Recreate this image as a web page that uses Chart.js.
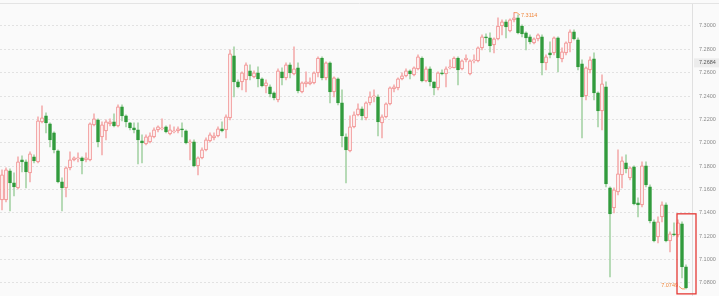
<!DOCTYPE html>
<html><head><meta charset="utf-8">
<style>html,body{margin:0;padding:0;background:#fafafa;overflow:hidden}#wrap{position:relative;width:719px;height:296px}</style>
<script src="https://cdn.jsdelivr.net/npm/chart.js@4/dist/chart.umd.min.js"></script>
</head><body><div id="wrap"><canvas id="c" width="719" height="296"></canvas></div>
<script>
const opens = [
7.1511,7.1511,7.1759,7.1657,7.1614,7.1853,7.1836,7.1742,7.1879,7.1836,
7.2179,7.2230,7.2162,7.2085,7.1930,7.1665,7.1614,7.1785,7.1853,7.1862,
7.1871,7.1853,7.1853,7.2153,7.2196,7.2050,7.2102,7.2162,7.2179,7.2144,
7.2307,7.2230,7.2170,7.2127,7.2110,7.2016,7.1990,7.2008,7.2050,7.2110,
7.2119,7.2136,7.2076,7.2093,7.2102,7.2119,7.2102,7.1999,7.2008,7.1802,
7.1871,7.1939,7.2016,7.2042,7.2059,7.2119,7.2110,7.2213,7.2744,7.2521,
7.2521,7.2538,7.2615,7.2564,7.2598,7.2547,7.2487,7.2478,7.2427,
7.2367,7.2607,7.2555,7.2667,7.2590,7.2641,7.2436,7.2504,7.2504,7.2513,
7.2598,7.2726,7.2555,7.2684,7.2436,7.2547,7.2341,7.2050,7.1930,7.2136,
7.2239,7.2290,7.2213,7.2341,7.2393,7.2393,7.2170,7.2221,7.2333,7.2461,
7.2470,7.2547,7.2572,7.2615,7.2581,7.2632,7.2726,7.2530,7.2632,7.2521,
7.2470,7.2598,7.2590,7.2641,7.2641,7.2726,7.2632,7.2709,7.2590,7.2701,
7.2701,7.2812,7.2906,7.2898,7.2838,7.2889,7.3000,7.3035,7.2958,7.3052,
7.3069,7.3000,7.2941,7.2906,7.2855,7.2889,7.2906,7.2684,7.2769,7.2769,
7.2898,7.2718,7.2769,7.2855,7.2949,7.2881,7.2675,7.2401,7.2624,7.2718,
7.2427,7.2273,7.2478,7.1614,7.1443,7.1580,7.1725,7.1828,7.1699,7.1793,
7.1485,7.1468,7.1802,7.1622,7.1323,7.1194,7.1366,7.1468,7.1160,7.1220,
7.1211,7.1306,7.0938];
const highs = [
7.1768,7.1785,7.1776,7.1742,7.1879,7.1888,7.1853,7.1922,7.1896,7.2221,
7.2316,7.2256,7.2170,7.2093,7.1939,7.1699,7.1793,7.1922,7.1879,7.1913,
7.1879,7.1913,7.2170,7.2247,7.2204,7.2179,7.2196,7.2204,7.2247,7.2324,
7.2324,7.2239,7.2175,7.2170,7.2170,7.2067,7.2067,7.2085,7.2127,7.2144,
7.2204,7.2144,7.2153,7.2136,7.2136,7.2170,7.2110,7.2025,7.2025,7.1879,
7.1956,7.2042,7.2085,7.2085,7.2136,7.2179,7.2239,7.2795,7.2821,7.2538,
7.2607,7.2684,7.2667,7.2615,7.2650,7.2555,7.2538,7.2495,7.2436,
7.2632,7.2641,7.2684,7.2684,7.2821,7.2684,7.2521,7.2607,7.2555,7.2607,
7.2735,7.2735,7.2692,7.2692,7.2564,7.2555,7.2453,7.2076,7.2230,7.2264,
7.2333,7.2307,7.2350,7.2436,7.2453,7.2410,7.2239,7.2341,7.2478,7.2495,
7.2555,7.2598,7.2632,7.2624,7.2650,7.2752,7.2735,7.2650,7.2650,7.2521,
7.2607,7.2624,7.2650,7.2709,7.2735,7.2735,7.2709,7.2752,7.2709,7.2752,
7.2821,7.2923,7.2932,7.2941,7.2898,7.3069,7.3052,7.3052,7.3060,7.3114,
7.3095,7.3009,7.2949,7.2923,7.2898,7.2932,7.2923,7.2752,7.2864,7.2906,
7.2906,7.2812,7.2864,7.2966,7.2966,7.2898,7.2709,7.2650,7.2735,7.2769,
7.2436,7.2581,7.2521,7.1622,7.1614,7.1939,7.1879,7.1896,7.1793,7.1802,
7.1528,7.1836,7.1836,7.1639,7.1340,7.1366,7.1494,7.1485,7.1237,7.1314,
7.1340,7.1323,7.0955];
const lows = [
7.1425,7.1494,7.1417,7.1545,7.1605,7.1751,7.1614,7.1665,7.1828,7.1828,
7.2170,7.2085,7.1965,7.1913,7.1657,7.1417,7.1537,7.1768,7.1845,7.1836,
7.1734,7.1836,7.1845,7.2144,7.1965,7.1896,7.2025,7.2144,7.2136,7.2136,
7.2187,7.2136,7.2110,7.2085,7.1819,7.1828,7.1982,7.1999,7.2042,7.2093,
7.2110,7.2085,7.2067,7.2085,7.2085,7.2050,7.1990,7.1853,7.1793,7.1725,
7.1862,7.1930,7.2008,7.2025,7.2050,7.2093,7.2042,7.2196,7.2393,7.2470,
7.2453,7.2436,7.2538,7.2555,7.2478,7.2478,7.2427,7.2393,7.2367,
7.2350,7.2495,7.2538,7.2555,7.2581,7.2427,7.2427,7.2478,7.2495,7.2504,
7.2564,7.2538,7.2538,7.2341,7.2393,7.2324,7.1965,7.1657,7.1922,7.2127,
7.2230,7.2196,7.2196,7.2324,7.2350,7.2059,7.2042,7.2213,7.2324,7.2436,
7.2453,7.2538,7.2564,7.2547,7.2572,7.2624,7.2521,7.2521,7.2487,7.2410,
7.2453,7.2581,7.2478,7.2632,7.2641,7.2495,7.2624,7.2692,7.2581,7.2684,
7.2692,7.2795,7.2855,7.2778,7.2769,7.2881,7.2923,7.2898,7.2949,7.3035,
7.2932,7.2906,7.2795,7.2846,7.2846,7.2872,7.2581,7.2624,7.2726,7.2752,
7.2607,7.2692,7.2752,7.2778,7.2881,7.2624,7.2042,7.2367,7.2598,7.2367,
7.2136,7.2110,7.1622,7.0852,7.1400,7.1554,7.1614,7.1742,7.1682,7.1468,
7.1366,7.1451,7.1622,7.1314,7.1151,7.1143,7.1323,7.1151,7.1066,7.1203,
7.1194,7.0843,7.0749];
const closes = [
7.1725,7.1768,7.1657,7.1622,7.1836,7.1836,7.1751,7.1905,7.1845,7.2187,
7.2213,7.2170,7.2025,7.1939,7.1665,7.1614,7.1785,7.1853,7.1871,7.1871,
7.1845,7.1871,7.2162,7.2204,7.2008,7.2153,7.2179,7.2179,7.2144,7.2307,
7.2230,7.2179,7.2127,7.2110,7.2025,7.1999,7.2050,7.2059,7.2110,7.2136,
7.2127,7.2093,7.2110,7.2102,7.2119,7.2110,7.1999,7.2008,7.1802,7.1871,
7.1939,7.2025,7.2067,7.2059,7.2119,7.2102,7.2221,7.2761,7.2521,7.2478,
7.2598,7.2667,7.2572,7.2598,7.2547,7.2487,7.2513,7.2418,7.2384,
7.2615,7.2555,7.2667,7.2598,7.2632,7.2444,7.2513,7.2521,7.2521,7.2598,
7.2726,7.2555,7.2684,7.2436,7.2555,7.2341,7.2059,7.1939,7.2136,7.2239,
7.2290,7.2230,7.2341,7.2393,7.2401,7.2179,7.2221,7.2333,7.2470,7.2478,
7.2547,7.2572,7.2615,7.2590,7.2641,7.2735,7.2530,7.2632,7.2521,7.2470,
7.2598,7.2590,7.2632,7.2650,7.2726,7.2624,7.2701,7.2726,7.2701,7.2709,
7.2812,7.2906,7.2898,7.2829,7.2889,7.3000,7.3035,7.2992,7.3052,7.3069,
7.2941,7.2932,7.2898,7.2864,7.2889,7.2923,7.2684,7.2735,7.2752,7.2898,
7.2726,7.2778,7.2855,7.2949,7.2889,7.2650,7.2393,7.2641,7.2709,7.2427,
7.2273,7.2504,7.1648,7.1391,7.1597,7.1734,7.1845,7.1776,7.1785,7.1477,
7.1468,7.1802,7.1639,7.1331,7.1160,7.1323,7.1468,7.1160,7.1220,7.1211,
7.1314,7.0938,7.0758];
const yTicks = [7.08,7.10,7.12,7.14,7.16,7.18,7.20,7.22,7.24,7.26,7.28,7.30];
const markerPrice = 7.2684;
const yMin = 7.0688, yMax = 7.3188;

const categories = opens.map((_, i) => 'K' + (i + 1));
categories.push('');

const GREEN = '#2f9a3a', GREEN_WICK = '#a9d4a9', RED = '#f08484', RED_WICK = '#f5b0b0';
const up = opens.map((o, i) => closes[i] >= o);

const overlay = {
  id: 'overlay',
  afterDraw(chart) {
    const { ctx, scales: { x, y } } = chart;
    ctx.save();
    ctx.strokeStyle = '#e4e4e4'; ctx.lineWidth = 1;
    ctx.beginPath(); ctx.moveTo(0, 3.5); ctx.lineTo(chart.width, 3.5); ctx.stroke();
    ctx.font = '5.5px "Liberation Sans", Arial, sans-serif';
    ctx.textBaseline = 'middle';
    // max label
    const hMax = Math.max(...highs), iMax = highs.indexOf(hMax);
    let px = x.getPixelForValue(iMax), py = y.getPixelForValue(hMax);
    ctx.strokeStyle = '#f0883e'; ctx.fillStyle = '#f0883e'; ctx.lineWidth = 0.8;
    ctx.beginPath(); ctx.moveTo(px, py); ctx.lineTo(px + 3, py); ctx.lineTo(px + 6, py + 2.5); ctx.stroke();
    ctx.textAlign = 'left';
    ctx.fillText(hMax.toFixed(4), px + 7, py + 3);
    // min label
    const lMin = Math.min(...lows), iMin = lows.indexOf(lMin);
    px = x.getPixelForValue(iMin); py = y.getPixelForValue(lMin);
    ctx.beginPath(); ctx.moveTo(px - 1, py); ctx.lineTo(px - 4, py); ctx.lineTo(px - 7, py - 2.5); ctx.stroke();
    ctx.textAlign = 'right';
    ctx.fillText(lMin.toFixed(4), px - 8, py - 3);
    // highlight box around last two candles
    const n = opens.length;
    const hi2 = Math.max(highs[n - 2], highs[n - 1]);
    const left = x.getPixelForValue(n - 2) - 5, right = x.getPixelForValue(n - 1) + 10;
    const top = y.getPixelForValue(hi2) - 8, bottom = y.getPixelForValue(lMin) + 5;
    ctx.strokeStyle = '#e53935'; ctx.lineWidth = 1.3;
    ctx.strokeRect(left, top, right - left, bottom - top);
    // axis marker label
    const my = y.getPixelForValue(markerPrice);
    ctx.fillStyle = '#ececec';
    ctx.fillRect(694, my - 4.5, 25, 9);
    ctx.fillStyle = '#555'; ctx.textAlign = 'left';
    ctx.font = '5.5px "Liberation Sans", Arial, sans-serif';
    ctx.fillText(markerPrice.toFixed(4), 699, my);
    ctx.restore();
  }
};

new Chart(document.getElementById('c'), {
  type: 'bar',
  data: {
    labels: categories,
    datasets: [
      {
        label: 'body',
        data: opens.map((o, i) => [o, closes[i]]),
        backgroundColor: up.map(u => u ? '#ffffff' : GREEN),
        borderColor: up.map(u => u ? RED : GREEN),
        borderWidth: 1,
        borderSkipped: false,
        barThickness: 3,
        minBarLength: 1,
        grouped: false,
        order: 0
      },
      {
        label: 'wick',
        data: lows.map((l, i) => [l, highs[i]]),
        backgroundColor: up.map(u => u ? RED_WICK : GREEN_WICK),
        borderWidth: 0,
        barThickness: 1,
        grouped: false,
        order: 1
      }
    ]
  },
  options: {
    responsive: false,
    animation: false,
    devicePixelRatio: 1,
    layout: { padding: { top: 4, left: 0, right: 0, bottom: 0 } },
    plugins: { legend: { display: false }, tooltip: { enabled: false } },
    scales: {
      x: { display: false, offset: true, grid: { display: false } },
      y: {
        position: 'right',
        min: yMin, max: yMax,
        afterBuildTicks: s => { s.ticks = yTicks.map(v => ({ value: v })); },
        afterFit: s => { s.width = 27; s.paddingTop = 0; s.paddingBottom = 0; },
        ticks: {
          font: { size: 5.5, family: '"Liberation Sans", Arial, sans-serif' },
          color: '#8a8a8a',
          padding: 7,
          callback: v => Number(v).toFixed(4)
        },
        grid: { color: '#e2e2e2', drawTicks: false, lineWidth: 1 },
        border: { display: true, color: '#e0e0e0', dash: [2, 2] }
      }
    }
  },
  plugins: [overlay]
});
</script>
</body></html>
